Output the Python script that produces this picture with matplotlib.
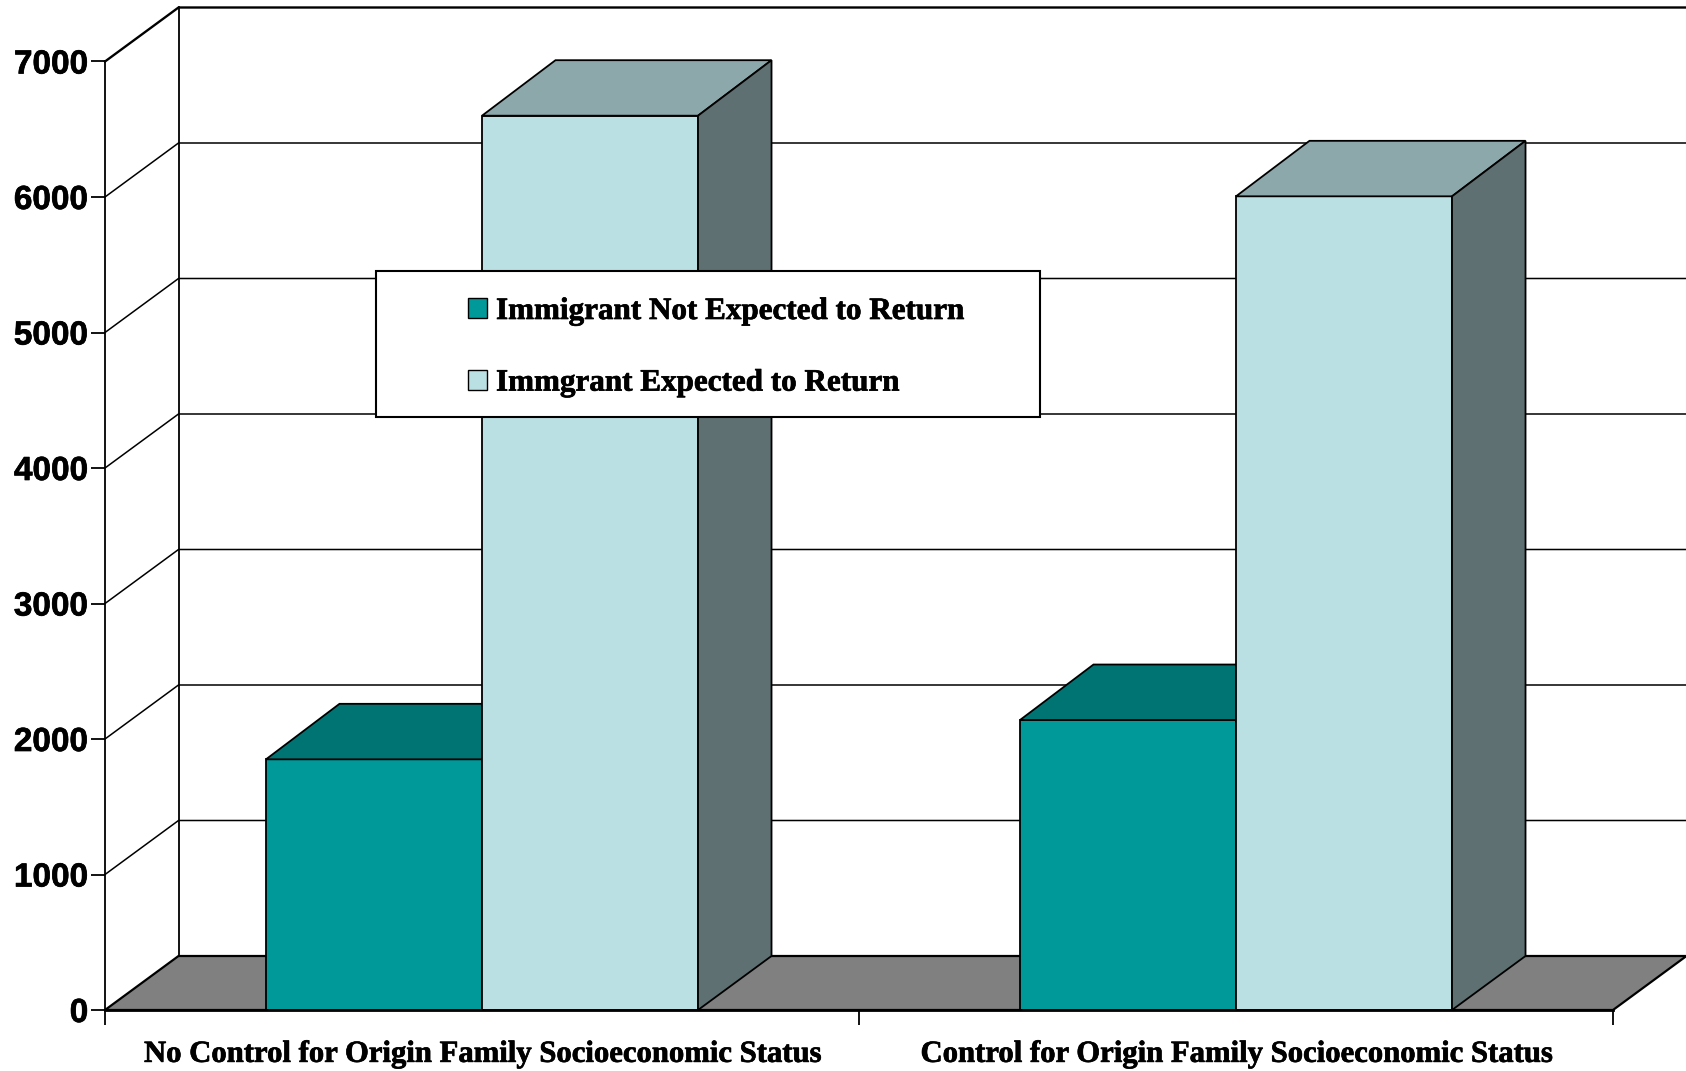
import numpy as np
import matplotlib
matplotlib.use('Agg')
import matplotlib.pyplot as plt
import matplotlib.patheffects as pe
from matplotlib.patches import Polygon, Rectangle

categories = ['No Control for Origin Family Socioeconomic Status',
              'Control for Origin Family Socioeconomic Status']
not_expected = [1850, 2140]
expected = [6600, 6005]
series_names = ['Immigrant Not Expected to Return', 'Immgrant Expected to Return']
yticks = [0, 1000, 2000, 3000, 4000, 5000, 6000, 7000]

W, H = 1686, 1071
LEFT, RIGHT, TOP, BOTTOM = 105, 1613, 61.5, 1010  # front plane in pixels
depth_x = 73.5 / (RIGHT - LEFT) * 2
depth_y = 54 / (BOTTOM - TOP) * 7000
bar_depth_y = 55.5 / (BOTTOM - TOP) * 7000
bar_w = 0.2865
heavy = [pe.withStroke(linewidth=0.5, foreground='black')]

fig = plt.figure(figsize=(W / 100, H / 100), dpi=100)
ax = fig.add_axes([LEFT / W, 1 - BOTTOM / H, (RIGHT - LEFT) / W, (BOTTOM - TOP) / H])
ax.set_xlim(0, 2)
ax.set_ylim(0, 7000)
for s in ['top', 'right']:
    ax.spines[s].set_visible(False)
ax.spines['left'].set_linewidth(1.3)
ax.spines['left'].set_zorder(2)
ax.spines['bottom'].set_linewidth(2.0)
ax.spines['bottom'].set_zorder(6)


def box3d(x, w, h, front, top, side):
    ax.bar(x, h, w, align='edge', color=front, edgecolor='black', linewidth=1.3, zorder=3)
    ax.add_patch(Polygon([(x, h), (x + depth_x, h + bar_depth_y), (x + w + depth_x, h + bar_depth_y), (x + w, h)],
                         facecolor=top, edgecolor='black', linewidth=1.3, zorder=3, clip_on=False))
    ax.add_patch(Polygon([(x + w, 0), (x + w + depth_x, depth_y), (x + w + depth_x, h + bar_depth_y), (x + w, h)],
                         facecolor=side, edgecolor='black', linewidth=1.3, zorder=3, clip_on=False))


# floor
ax.add_patch(Polygon([(0, 0), (2, 0), (2 + depth_x, depth_y), (depth_x, depth_y)],
                     facecolor='#808080', edgecolor='black', linewidth=1.6, zorder=1, clip_on=False))

# back wall and side wall lines
ax.plot([depth_x, depth_x], [depth_y, 7000 + depth_y], color='black', lw=1.3, zorder=1, clip_on=False)
for v in yticks[1:]:
    ax.plot([0, depth_x, 2 + depth_x], [v, v + depth_y, v + depth_y], color='black',
            lw=1.7 if v == 7000 else 1.1, zorder=1, clip_on=False)

for i in range(len(categories)):
    box3d(i + 0.2135, bar_w, not_expected[i], '#009999', '#007373', '#007373')
    box3d(i + 0.2135 + bar_w, bar_w, expected[i], '#BBE0E3', '#8CA8AA', '#5E7072')

ax.set_yticks(yticks)
ax.set_yticklabels([str(v) for v in yticks], family='Liberation Sans', weight='bold', fontsize=24,
                   path_effects=heavy)
ax.tick_params(axis='y', length=10, width=1.3, pad=2)
ax.set_xticks([0, 1, 2])
ax.set_xticklabels([])
ax.tick_params(axis='x', which='major', length=10.5, width=1.3)
ax.set_xticks([0.5, 1.5], minor=True)
ax.set_xticklabels(categories, minor=True, family='Liberation Serif', weight='bold', fontsize=22.1,
                   path_effects=heavy)
ax.tick_params(axis='x', which='minor', length=0, pad=21.5)

# legend box, entries go on top of it
ax.add_patch(Rectangle(((376 - LEFT) / (RIGHT - LEFT), (BOTTOM - 417) / (BOTTOM - TOP)),
                       664 / (RIGHT - LEFT), 146 / (BOTTOM - TOP), transform=ax.transAxes,
                       facecolor='white', edgecolor='black', linewidth=1.5, zorder=4, clip_on=False))
handles = [Rectangle((0, 0), 1, 1, facecolor=c, edgecolor='black', linewidth=1.0) for c in ['#009999', '#BBE0E3']]
leg = ax.legend(handles, series_names, loc='upper left', frameon=False, handlelength=0.6, handleheight=0.6,
                handletextpad=0.3, labelspacing=1.37, borderpad=0, borderaxespad=0,
                bbox_to_anchor=((468 - LEFT) / (RIGHT - LEFT), (BOTTOM - 297) / (BOTTOM - TOP)),
                prop={'family': 'Liberation Serif', 'weight': 'bold', 'size': 22.4})
for t in leg.get_texts():
    t.set_path_effects(heavy)

fig.savefig('out.png', dpi=100)
